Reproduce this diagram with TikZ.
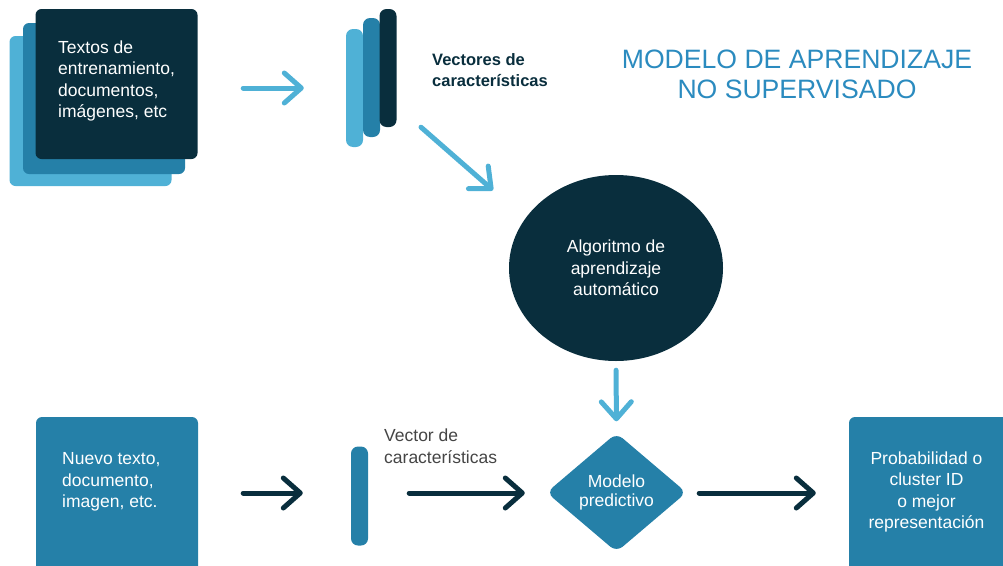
\documentclass[tikz,border=0pt]{standalone}
\usepackage{fontspec}
\setmainfont{Liberation Sans}
\usetikzlibrary{arrows.meta,shapes.geometric}
\definecolor{dark}{HTML}{092E3D}
\definecolor{mid}{HTML}{2580A8}
\definecolor{light}{HTML}{4FB1D6}
\definecolor{titleblue}{HTML}{2B8BBF}
\definecolor{greytext}{HTML}{454545}

\begin{document}
\begin{tikzpicture}[x=1pt,y=-1pt,font=\fontsize{17.5}{21.5}\selectfont]
\tikzstyle{card}=[rounded corners=6pt,minimum width=162pt,minimum height=150pt,inner sep=0pt]
\tikzstyle{bar}=[rounded corners=7pt,minimum width=17pt,inner sep=0pt]
\tikzstyle{inside}=[text=white,inner sep=0pt]
\tikzstyle{arrL}=[line width=5pt,light,line cap=round,-{Straight Barb[length=17pt,width=30pt,round]}]
\tikzstyle{arrD}=[arrL,dark]
\useasboundingbox (0,0) rectangle (1003,565);
% training data
\node[card,fill=light] (back) at (90.5,111) {};
\node[card,fill=mid,minimum height=151pt] (middle) at (104,98.5) {};
\node[card,fill=dark] (front) at (116.5,84) {};
\node[inside,align=left,anchor=west] (fronttext) at (58,81) {Textos de\\entrenamiento,\\documentos,\\imágenes, etc};
% feature vectors
\node[bar,fill=light,minimum height=118pt] (vecA) at (354.5,88) {};
\node[bar,fill=mid,minimum height=119pt] (vecB) at (371.5,77.5) {};
\node[bar,fill=dark,minimum height=118pt] (vecC) at (388,68) {};
\node[anchor=west,align=left,text=dark,inner sep=0pt,font=\bfseries\fontsize{16.5}{20.5}\selectfont] (veclabel) at (432,70) {Vectores de\\características};
\node[align=center,text=titleblue,font=\fontsize{26.6}{30}\selectfont] (title) at (797,74) {MODELO DE APRENDIZAJE\\NO SUPERVISADO};
% algorithm
\node[ellipse,fill=dark,minimum width=214pt,minimum height=186pt,inside,align=center] (algo) at (616,268) {Algoritmo de\\aprendizaje\\automático};
\node[diamond,fill=mid,rounded corners=8pt,minimum width=140pt,minimum height=119pt,inside,align=center,font=\fontsize{17.5}{18.5}\selectfont] (model) at (616.5,492.5) {Modelo\\predictivo};
% new data
\node[rounded corners=6pt,fill=mid,minimum width=162pt,minimum height=160pt] (newdoc) at (117,497) {};
\node[inside,align=left,anchor=west] (newtext) at (62,482) {Nuevo texto,\\documento,\\imagen, etc.};
\node[bar,fill=mid,minimum height=99pt] (vecnew) at (359.5,496) {};
\node[anchor=west,align=left,text=greytext,inner sep=0pt] (vecnewlabel) at (384,446) {Vector de\\características};
\node[rounded corners=6pt,fill=mid,minimum width=170pt,minimum height=160pt] (result) at (934,497) {};
\node[inside,align=center] (resulttext) at (926.5,492) {Probabilidad o\\cluster ID\\o mejor\\representación};
% arrows
\draw[arrL,shorten <=45.5pt,shorten >=42pt] (front.east |- 0,88) -- (vecA.west |- 0,88);
\draw[arrL] ([xshift=33pt]vecC.south) -- ++(72,63);
\draw[arrL,shorten <=9pt,shorten >=11.5pt] (algo.south) -- (model.north);
\draw[arrD,shorten <=45pt,shorten >=48pt] (newdoc.east |- 0,493) -- (vecnew.west |- 0,493);
\draw[arrD,shorten <=41pt,shorten >=21.5pt] (vecnew.east |- 0,493) -- (model.west |- 0,493);
\draw[arrD,shorten <=12.5pt,shorten >=33pt] (model.east |- 0,493) -- (result.west |- 0,493);
\end{tikzpicture}
\end{document}
